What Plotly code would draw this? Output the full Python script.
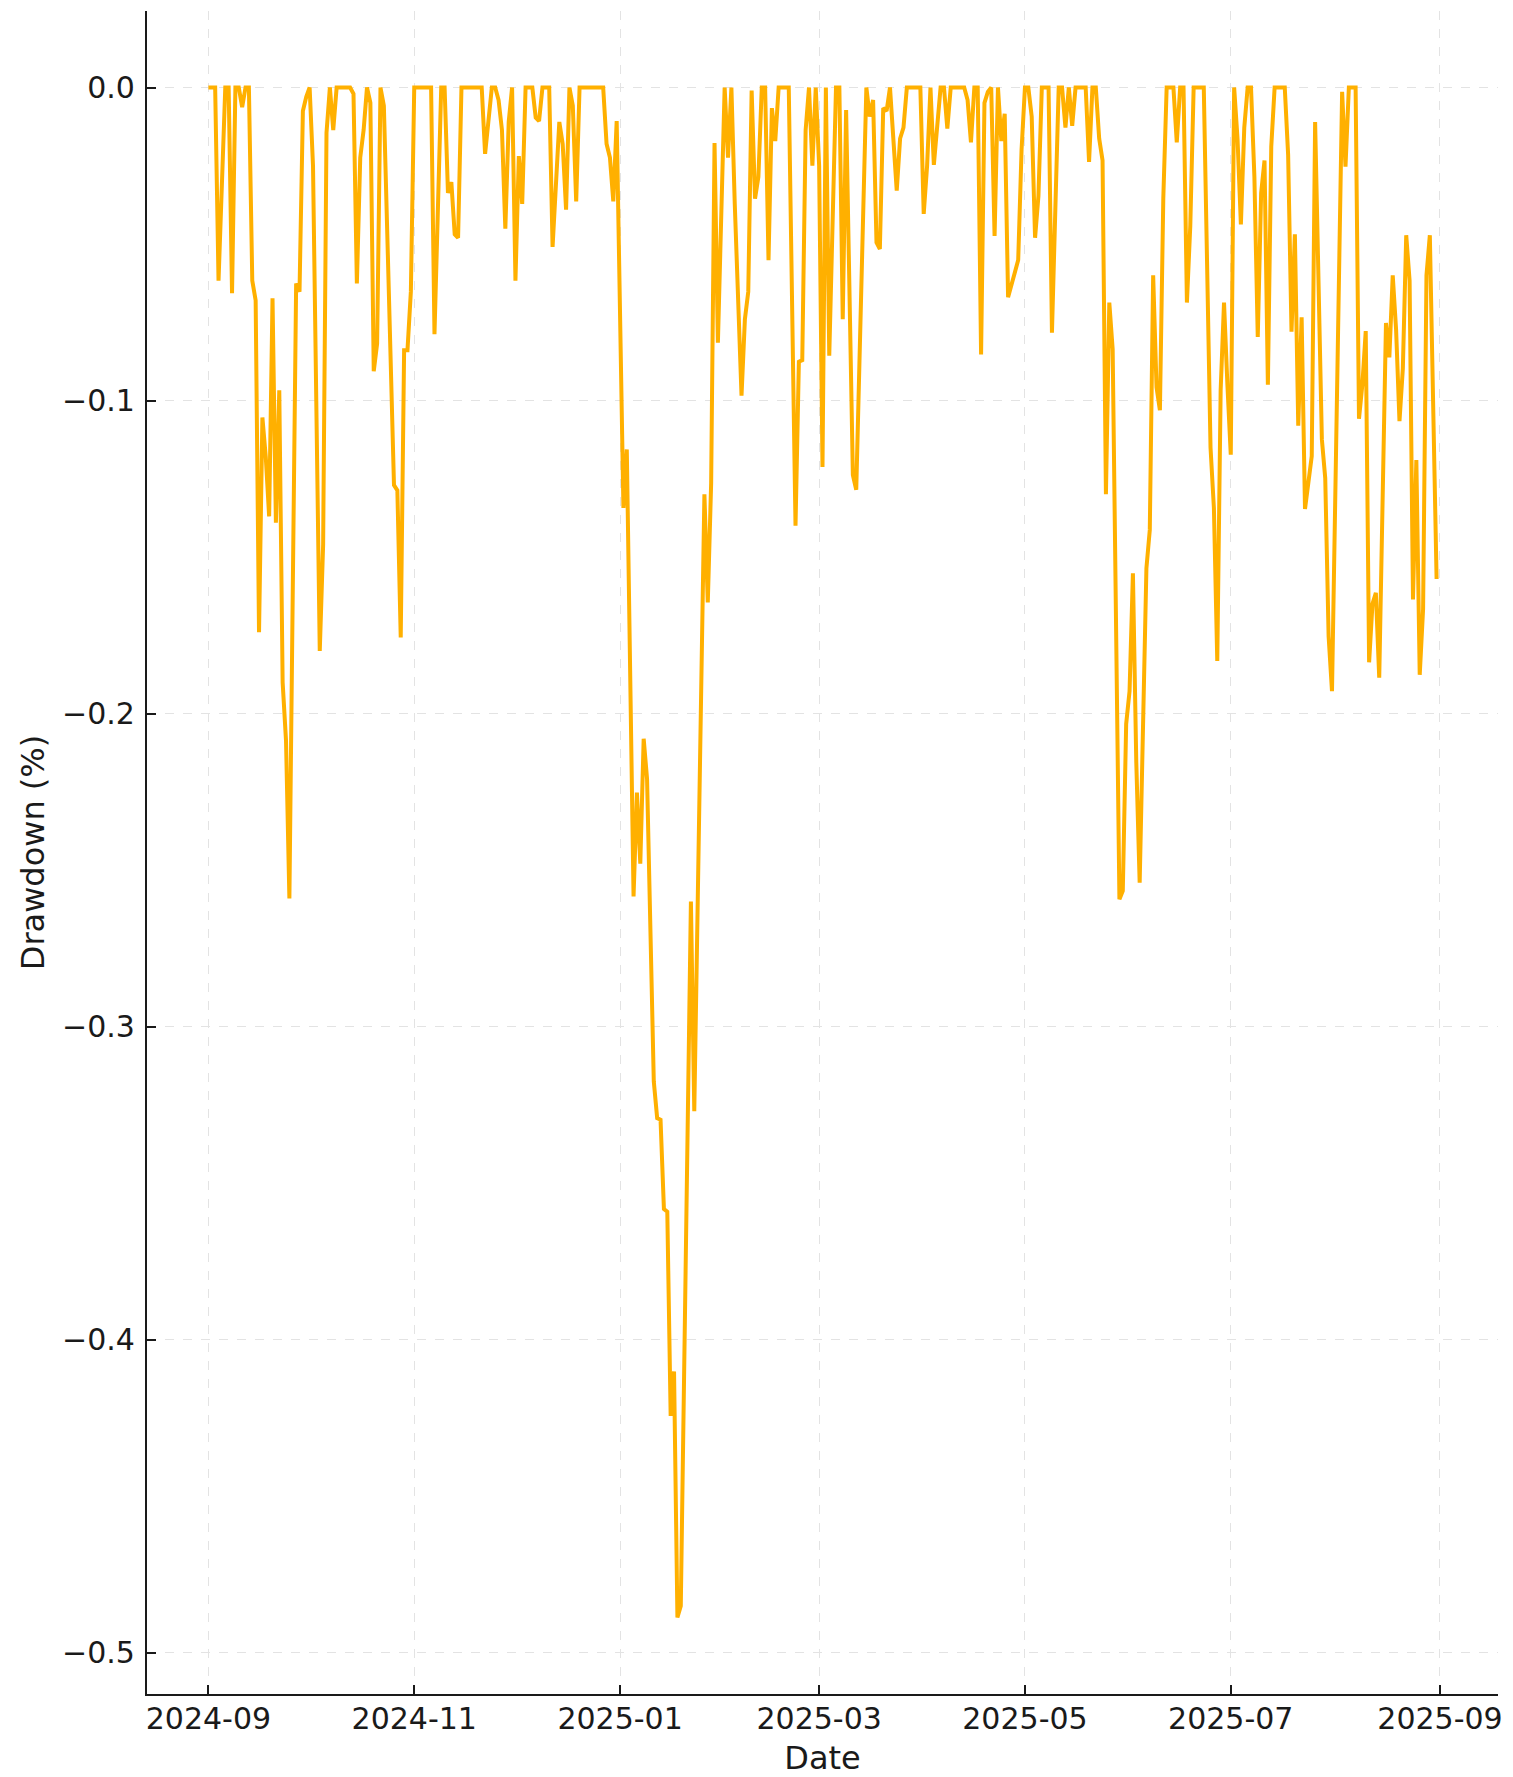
import pandas as pd
import plotly.graph_objects as go

# ---- data (day offsets from start date, drawdown values) ----
start_date = "2024-09-01"
day_offset = [
    0, 2, 3, 5, 6, 7, 8, 9, 10, 11, 12, 13, 14, 15, 16, 17, 18, 19, 20, 21, 22, 23, 24,
    26, 27, 28, 29, 30, 31, 33, 34, 35, 36, 37, 38, 42, 43, 44, 45, 46, 47, 48, 49, 50,
    51, 52, 55, 56, 57, 58, 59, 60, 61, 66, 67, 69, 70, 71, 72, 73, 74, 75, 81, 82, 84,
    85, 86, 87, 88, 89, 90, 91, 92, 93, 94, 96, 97, 98, 99, 101, 102, 104, 105, 106, 107,
    108, 109, 110, 117, 118, 119, 120, 121, 123, 124, 126, 127, 128, 129, 130, 132, 133,
    134, 135, 136, 137, 138, 139, 140, 143, 144, 147, 148, 149, 150, 151, 153, 154, 155,
    156, 158, 159, 160, 161, 162, 163, 164, 165, 166, 167, 168, 169, 172, 174, 175, 176,
    177, 178, 179, 180, 181, 182, 183, 184, 186, 187, 188, 189, 191, 192, 195, 196, 197,
    198, 199, 200, 201, 202, 204, 205, 206, 207, 211, 212, 213, 214, 215, 216, 217, 218,
    219, 220, 224, 225, 226, 227, 228, 229, 230, 231, 232, 233, 234, 235, 236, 237, 238,
    239, 240, 241, 242, 243, 244, 245, 246, 247, 249, 250, 252, 253, 254, 255, 256, 257,
    260, 261, 262, 263, 264, 265, 266, 267, 268, 270, 271, 272, 273, 274, 275, 276, 278,
    279, 280, 281, 282, 283, 284, 286, 287, 288, 289, 290, 291, 292, 295, 297, 298, 299,
    300, 301, 302, 303, 304, 305, 306, 307, 308, 309, 310, 311, 312, 313, 314, 315, 316,
    319, 320, 321, 322, 323, 324, 325, 327, 328, 330, 331, 332, 333, 336, 337, 338, 340,
    341, 342, 343, 344, 345, 346, 347, 349, 350, 351, 352, 353, 354, 355, 356, 357, 358,
    359, 360, 361, 362, 364,
]
drawdown = [
    0, 0, -0.0617, 0, 0, -0.0657, 0, 0, -0.0063, 0, 0, -0.0617, -0.068, -0.174, -0.1054,
    -0.118, -0.137, -0.0673, -0.139, -0.0967, -0.190, -0.2086, -0.259,
    -0.0626, -0.0652, -0.0075, -0.003, 0, -0.025, -0.180, -0.146, -0.0145, 0, -0.0136, 0,
    0, -0.002, -0.0626, -0.0224, -0.0136, 0, -0.0049, -0.0906, -0.0818,
    0, -0.0058, -0.127, -0.1287, -0.1757, -0.0839, -0.0839, -0.0652, 0, 0, -0.0788, 0, 0,
    -0.0337, -0.0302, -0.0469, -0.048, 0, 0, -0.0212, 0,
    0, -0.004, -0.0136, -0.0451, -0.011, 0, -0.0617, -0.0219, -0.0372, 0, 0, -0.0096,
    -0.0107, 0, 0, -0.0509, -0.011, -0.018, -0.039, 0,
    -0.0058, -0.0364, 0, 0, -0.018, -0.0224, -0.0364, -0.0107, -0.1343, -0.1156, -0.2584,
    -0.2252, -0.2479, -0.208, -0.2208, -0.3175, -0.3292,
    -0.3297, -0.3582, -0.3591, -0.4243, -0.4101, -0.4887, -0.485, -0.26, -0.327, -0.1299,
    -0.1645, -0.1264, -0.0177, -0.0815, 0, -0.0224, 0,
    -0.0372, -0.0984, -0.074, -0.0652, -0.001, -0.0355, -0.0285, 0, 0, -0.0552, -0.0066,
    -0.0171, 0, 0, -0.14, -0.0876, -0.0871,
    -0.0136, 0, -0.025, 0, -0.025, -0.1212, 0, -0.0857, 0, 0, -0.074, -0.0072, -0.1238,
    -0.1285, 0, -0.0093, -0.004,
    -0.0495, -0.0516, -0.0066, -0.0075, 0, -0.0329, -0.0163, -0.0128, 0, 0, -0.0404, -0.025,
    0, -0.0247, -0.0128, 0, 0,
    -0.0131, 0, 0, -0.004, -0.0175, 0, 0, -0.0853, -0.0049, -0.0014, 0, -0.0474, 0, -0.0171,
    -0.0084, -0.067, -0.0635,
    -0.0591, -0.0551, -0.0198, 0, 0, -0.0093, -0.048, -0.0346, 0, 0, -0.0783, 0, 0, -0.0128,
    0, -0.0122, 0,
    0, -0.0238, 0, 0, -0.0163, -0.0233, -0.1299, -0.0687, -0.0836, -0.2593, -0.2566, -0.2033,
    -0.1928, -0.1552, -0.2156, -0.254, -0.1535,
    -0.1413, -0.06, -0.0958, -0.1031, -0.0355, 0, 0, -0.0175, 0, 0, -0.0687, -0.0442, 0, 0,
    -0.115, -0.1343, -0.1832,
    -0.0967, -0.0687, -0.0949, -0.1173, 0, -0.0163, -0.0437, -0.0128, 0, 0, -0.0285, -0.0797,
    -0.0337, -0.0233, -0.0949, -0.0189, 0,
    0, -0.0215, -0.078, -0.0469, -0.108, -0.0734, -0.1346, -0.1177, -0.011, -0.1124, -0.1248,
    -0.1753, -0.1928, -0.0014, -0.0253, 0, 0,
    -0.1058, -0.0949, -0.0778, -0.1836, -0.1649, -0.1614, -0.1885, -0.0752, -0.0862, -0.06,
    -0.0774, -0.1066, -0.0897, -0.0472, -0.0617, -0.1635, -0.119,
    -0.1876, -0.1666, -0.06, -0.0472, -0.157,
]

x_tick_dates = ["2024-09-01", "2024-11-01", "2025-01-01", "2025-03-01",
                "2025-05-01", "2025-07-01", "2025-09-01"]
x_tick_labels = ["2024-09", "2024-11", "2025-01", "2025-03",
                 "2025-05", "2025-07", "2025-09"]
y_tick_vals = [0.0, -0.1, -0.2, -0.3, -0.4, -0.5]
y_tick_labels = ["0.0", "\u22120.1", "\u22120.2", "\u22120.3", "\u22120.4", "\u22120.5"]

dates = pd.to_datetime(start_date) + pd.to_timedelta(day_offset, unit="D")

# matplotlib-like 5% margins
span = dates.max() - dates.min()
x_range = [dates.min() - span * 0.05, dates.max() + span * 0.05]
ymin, ymax = min(drawdown), max(drawdown)
yspan = ymax - ymin
y_range = [ymin - yspan * 0.05, ymax + yspan * 0.05]

FONT = "DejaVu Sans"
TXT = "#1a1a1a"

fig = go.Figure()
fig.add_trace(go.Scatter(
    x=dates, y=drawdown, mode="lines",
    line=dict(color="#FFB000", width=4),
    showlegend=False,
))

# page body adds an 8px margin, so the figure is sized/offset to compensate
fig.update_layout(
    width=1497, height=1769,
    margin=dict(l=139, r=7, t=3, b=83),
    paper_bgcolor="white", plot_bgcolor="white",
    font=dict(family=FONT, size=30, color=TXT),
)
fig.update_xaxes(
    range=x_range, automargin=False,
    tickmode="array", tickvals=x_tick_dates, ticktext=x_tick_labels,
    showline=True, linecolor="#1a1a1a", linewidth=2.2, mirror=False,
    ticks="inside", ticklen=9, tickwidth=2, tickcolor="#1a1a1a",
    ticklabelstandoff=-3,
    showgrid=True, gridcolor="#e3e3e3", gridwidth=1.2, griddash="dash",
    zeroline=False,
    title=dict(text="Date", font=dict(family=FONT, size=32, color=TXT), standoff=13),
    tickfont=dict(family=FONT, size=30, color=TXT),
)
fig.update_yaxes(
    range=y_range, automargin=False,
    tickmode="array", tickvals=y_tick_vals, ticktext=y_tick_labels,
    showline=True, linecolor="#1a1a1a", linewidth=2.2, mirror=False,
    ticks="inside", ticklen=9, tickwidth=2, tickcolor="#1a1a1a",
    ticklabelstandoff=4,
    showgrid=True, gridcolor="#e3e3e3", gridwidth=1.2, griddash="dash",
    zeroline=False,
    title=dict(text="Drawdown (%)", font=dict(family=FONT, size=32, color=TXT), standoff=8),
    tickfont=dict(family=FONT, size=30, color=TXT),
)

fig.write_html("out.html")
